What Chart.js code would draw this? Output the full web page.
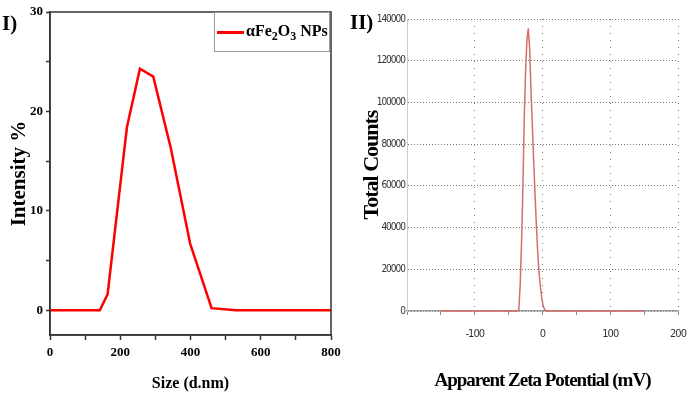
<!DOCTYPE html>
<html lang="en">
<head>
    <meta charset="UTF-8">
    <title> DLS y Zeta </title>
    <script src="https://cdn.jsdelivr.net/npm/chart.js"></script>
    <style>
        /* whole page */
        body {
            margin: 0px;
            background: white;
            font-family: "Liberation Serif", serif;
        }
        .page {
            position: relative;
            width: 688px;
            height: 401px;
            overflow: hidden;
        }
        canvas {
            position: absolute;
            top: 0px;
        }
        .panel {
            /* I) and II) labels */
            position: absolute;
            font-weight: bold;
            font-size: 21px;
            line-height: 1;
        }
        .leyenda {
            position: absolute;
            left: 214px;
            top: 12px;
            width: 114px;
            height: 38px;
            border: 1px solid #999;
            background: white;
            font-weight: bold;
            font-size: 16px;
        }
        .muestra {
            position: absolute;
            left: 2px;
            top: 18px;
            width: 27px;
            height: 3px;
            background: #ff0000;
        }
        .texto {
            position: absolute;
            left: 31px;
            top: 9px;
            white-space: nowrap;
        }
    </style>
</head>
<body>
<div class="page">
    <canvas id="graph1" width="345" height="401" style="left:0px"></canvas>
    <canvas id="graph2" width="343" height="401" style="left:345px"></canvas>
    <div class="panel" style="left:2px; top:13px;">I)</div>
    <div class="panel" style="left:350px; top:12px;">II)</div>
    <div class="leyenda">
        <span class="muestra"></span>
        <span class="texto">αFe<sub style="font-size:12px">2</sub>O<sub style="font-size:12px">3</sub> NPs</span>
    </div>
</div>

<script>
    // I) distribucion de tamaño
    const sizeNm = [0, 142, 164, 219, 256, 294, 344, 399, 460, 529, 800];
    const intensity = [0, 0, 1.6, 18.4, 24.3, 23.5, 16.3, 6.7, 0.2, 0, 0];
    const sizeTicks = [0, 100, 200, 300, 400, 500, 600, 700, 800];
    const intensityTicks = [0, 5, 10, 15, 20, 25, 30];

    // II) potencial zeta
    const zetaMv = [-150, -38, -35, -33, -31, -29, -27, -25, -23, -21, -19, -17, -15, -13,
        -11, -9, -7, -5, -3, -1, 1, 3, 5, 10, 150];
    const totalCounts = [0, 0, 500, 12000, 32000, 58000, 92000, 115000, 130000, 135500, 126000,
        106000, 89000, 72000, 56000, 41000, 28000, 18000, 11500, 6000, 2500, 800, 0, 0, 0];
    const zetaTicks = [-200, -150, -100, -50, 0, 50, 100, 150, 200];
    const countTicks = [0, 10000, 20000, 30000, 40000, 50000, 60000, 70000, 80000,
        90000, 100000, 110000, 120000, 130000, 140000];

    const serifBold = (s) => ({family: '"Liberation Serif", serif', weight: 'bold', size: s});
    const narrow = (s) => ({family: '"DejaVu Sans Condensed", "Liberation Sans Narrow", "DejaVu Sans", sans-serif',
        style: 'condensed', size: s});

    // no extra room for the end labels, the plot area is fixed by layout padding
    const noPad = (s) => {
        s.paddingLeft = 0; s.paddingRight = 0;
        s.paddingTop = 0; s.paddingBottom = 0;
    };

    // box round the plot area of graph 1
    const frame = {
        id: 'frame',
        afterDraw(chart) {
            const a = chart.chartArea;
            const ctx = chart.ctx;
            ctx.save();
            ctx.strokeStyle = '#333';
            ctx.lineWidth = 1.5;
            ctx.strokeRect(a.left, a.top, a.right - a.left, a.bottom - a.top);
            ctx.restore();
        }
    };

    // graph 2 text is squeezed sideways in the original
    const squeeze = {
        id: 'squeeze',
        beforeDraw(chart) {
            chart.ctx.letterSpacing = '-1px';
        }
    };

    const config1 = {
        type: 'scatter',
        data: {
            datasets: [{
                label: 'αFe2O3 NPs',
                data: sizeNm.map((s, i) => ({x: s, y: intensity[i]})),
                showLine: true,
                borderColor: '#ff0000',
                borderWidth: 2.5,
                pointRadius: 0,
                tension: 0
            }]
        },
        options: {
            responsive: false,
            animation: false,
            devicePixelRatio: 1,
            layout: {padding: {left: 0, top: 12, right: 14, bottom: 0}},
            plugins: {legend: {display: false}, tooltip: {enabled: false}},
            scales: {
                x: {
                    type: 'linear', min: 0, max: 800,
                    afterBuildTicks: (s) => { s.ticks = sizeTicks.map(v => ({value: v})); },
                    afterFit: (s) => { s.height = 66; noPad(s); },
                    ticks: {
                        autoSkip: false, maxRotation: 0, color: 'black', padding: 5,
                        font: serifBold(13),
                        callback: (v) => v % 200 === 0 ? v : ''
                    },
                    grid: {drawOnChartArea: false, tickLength: 5, color: '#333', tickWidth: 1.5},
                    border: {color: '#333', width: 1.5},
                    title: {display: true, text: 'Size (d.nm)', color: 'black',
                        font: serifBold(16), padding: {top: 0, bottom: 8}}
                },
                y: {
                    type: 'linear', min: -2.5, max: 30,
                    afterBuildTicks: (s) => { s.ticks = intensityTicks.map(v => ({value: v})); },
                    afterFit: (s) => { s.width = 50; noPad(s); },
                    ticks: {
                        autoSkip: false, color: 'black', padding: 3,
                        font: serifBold(13),
                        callback: (v) => v % 10 === 0 ? v : ''
                    },
                    grid: {drawOnChartArea: false, tickLength: 4, color: '#333', tickWidth: 1.5},
                    border: {color: '#333', width: 1.5},
                    title: {display: true, text: 'Intensity %', color: 'black',
                        font: serifBold(21), padding: {top: 7, bottom: 0}}
                }
            }
        },
        plugins: [frame]
    };

    const config2 = {
        type: 'scatter',
        data: {
            datasets: [{
                label: 'Total Counts',
                data: zetaMv.map((z, i) => ({x: z, y: totalCounts[i]})),
                showLine: true,
                borderColor: 'rgb(210,110,110)',
                borderWidth: 1.5,
                pointRadius: 0,
                tension: 0,
                clip: 3
            }]
        },
        options: {
            responsive: false,
            animation: false,
            devicePixelRatio: 1,
            layout: {padding: {left: 0, top: 19, right: 10, bottom: 0}},
            plugins: {legend: {display: false}, tooltip: {enabled: false}},
            scales: {
                x: {
                    type: 'linear', min: -200, max: 200,
                    afterBuildTicks: (s) => { s.ticks = zetaTicks.map(v => ({value: v})); },
                    afterFit: (s) => { s.height = 90; noPad(s); },
                    ticks: {
                        autoSkip: false, maxRotation: 0, color: '#333', padding: 13,
                        font: narrow(11),
                        callback: (v) => (v % 100 === 0 && v !== -200) ? v : ''
                    },
                    grid: {
                        color: (c) => (c.tick && c.tick.value % 100 === 0 && c.tick.value !== -200) ? '#777' : 'rgba(0,0,0,0)',
                        tickColor: '#888', tickLength: 4, lineWidth: 1
                    },
                    border: {color: '#999', width: 1.5, dash: [1, 6]},
                    title: {display: true, text: 'Apparent Zeta Potential (mV)', color: 'black',
                        font: serifBold(19), padding: {top: 0, bottom: 9}}
                },
                y: {
                    type: 'linear', min: 0, max: 140000,
                    afterBuildTicks: (s) => { s.ticks = countTicks.map(v => ({value: v})); },
                    afterFit: (s) => { s.width = 62; noPad(s); },
                    ticks: {
                        autoSkip: false, color: '#333', padding: 2,
                        font: narrow(10),
                        callback: (v) => v % 20000 === 0 ? v : ''
                    },
                    grid: {
                        color: (c) => (c.tick && c.tick.value % 20000 === 0) ? '#777' : 'rgba(0,0,0,0)',
                        drawTicks: false, lineWidth: 1
                    },
                    border: {color: '#ccc', width: 1, dash: [1, 2]},
                    title: {display: true, text: 'Total Counts', color: 'black',
                        font: serifBold(22), padding: {top: 14, bottom: 0}}
                }
            }
        },
        plugins: [squeeze]
    };

    let graph1 = new Chart(document.getElementById('graph1'), config1);
    let graph2 = new Chart(document.getElementById('graph2'), config2);
</script>
</body>
</html>
